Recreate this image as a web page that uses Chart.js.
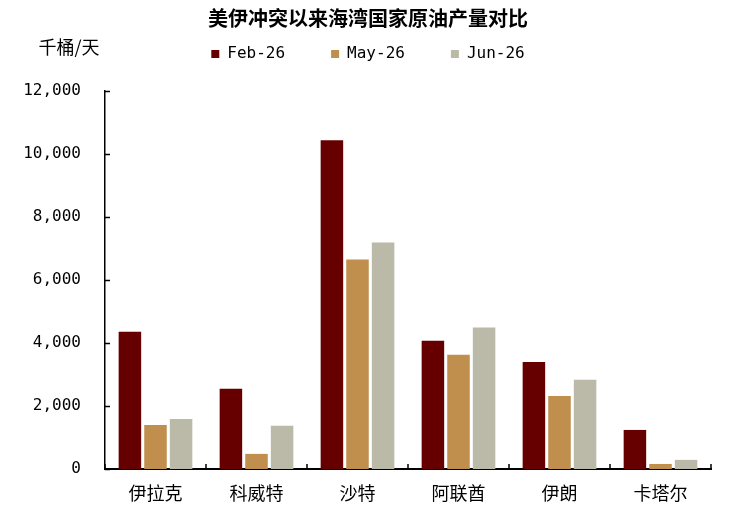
<!DOCTYPE html>
<html>
<head>
<meta charset="utf-8">
<script src="https://cdn.jsdelivr.net/npm/chart.js@4"></script>
<style>
  html, body { margin: 0; padding: 0; background: #fff; }
  #wrap { width: 736px; height: 513px; }
</style>
</head>
<body>
<div id="wrap"><canvas id="chart" width="736" height="513"></canvas></div>
<script>
const countries = ['伊拉克', '科威特', '沙特', '阿联酋', '伊朗', '卡塔尔'];
const feb26 = [4360, 2550, 10440, 4070, 3400, 1240];
const may26 = [1400, 480, 6650, 3630, 2320, 160];
const jun26 = [1590, 1370, 7190, 4490, 2830, 290];
const seriesNames = ['Feb-26', 'May-26', 'Jun-26'];
const unitLabel = '千桶/天';

const cjk = '"Noto Sans CJK SC", "Liberation Sans", sans-serif';
const mono = '"DejaVu Sans Mono", monospace';

// title and legend share the top band; the legend box reserves the space
const topBand = {
    id: 'topBand',
    beforeInit(chart) {
        const titleUpdate = chart.titleBlock.update;
        chart.titleBlock.update = function (w, h) {
            titleUpdate.call(this, w, h);
            this.height = this.bottom = 0;
        };
        const legendFit = chart.legend.fit;
        chart.legend.fit = function () {
            legendFit.call(this);
            this.height = 91;
        };
    }
};

// axis ticks drawn inward, like the original
const innerTicks = {
    id: 'innerTicks',
    afterDraw(chart) {
        const c = chart.ctx;
        const area = chart.chartArea;
        const y = chart.scales.y;
        c.save();
        c.strokeStyle = '#000';
        c.lineWidth = 1.5;
        c.beginPath();
        y.ticks.forEach(t => {
            const py = Math.round(y.getPixelForValue(t.value)) + 0.5;
            c.moveTo(area.left, py);
            c.lineTo(area.left + 5, py);
        });
        const n = countries.length;
        for (let i = 0; i <= n; i++) {
            const px = area.left + i * (area.right - area.left) / n;
            c.moveTo(px, area.bottom);
            c.lineTo(px, area.bottom - 5);
        }
        c.stroke();
        c.fillStyle = '#000';
        c.font = '18px ' + cjk;
        c.textAlign = 'center';
        c.textBaseline = 'middle';
        c.fillText(unitLabel, area.left - 36, 47);
        c.restore();
    }
};

const ctx = document.querySelector('#chart').getContext('2d');
const chart = new Chart(ctx, {
    type: 'bar',
    data: {
        labels: countries,
        datasets: [{
            label: seriesNames[0],
            data: feb26,
            backgroundColor: '#660000',
        }, {
            label: seriesNames[1],
            data: may26,
            backgroundColor: '#C08F4E',
        }, {
            label: seriesNames[2],
            data: jun26,
            backgroundColor: '#BBBAA8',
        }]
    },
    options: {
        responsive: false,
        animation: false,
        devicePixelRatio: 1,
        categoryPercentage: 0.76,
        barPercentage: 0.88,
        layout: {
            padding: { left: 25, right: 25, top: 0, bottom: 9 }
        },
        scales: {
            x: {
                afterFit: (scale) => { scale.height = 35; },
                grid: { display: false, drawTicks: false },
                border: { color: '#000', width: 2 },
                ticks: {
                    color: '#000',
                    padding: 13,
                    font: { family: cjk, size: 18 }
                }
            },
            y: {
                min: 0,
                max: 12000,
                afterFit: (scale) => { scale.width = 80; },
                grid: { display: false, drawTicks: false },
                border: { color: '#000', width: 1.5 },
                ticks: {
                    stepSize: 2000,
                    color: '#000',
                    padding: 24,
                    font: { family: mono, size: 16 },
                    callback: (v) => v.toLocaleString('en-US')
                }
            }
        },
        plugins: {
            title: {
                display: true,
                text: '美伊冲突以来海湾国家原油产量对比',
                color: '#000',
                font: { family: cjk, size: 20, weight: 'bold', lineHeight: 1.2 },
                padding: { top: 6, bottom: 0 }
            },
            legend: {
                position: 'top',
                labels: {
                    boxWidth: 8,
                    boxHeight: 8,
                    padding: 46,
                    color: '#000',
                    font: { family: mono, size: 16 }
                }
            },
            tooltip: { enabled: false }
        }
    },
    plugins: [topBand, innerTicks]
});
</script>
</body>
</html>
